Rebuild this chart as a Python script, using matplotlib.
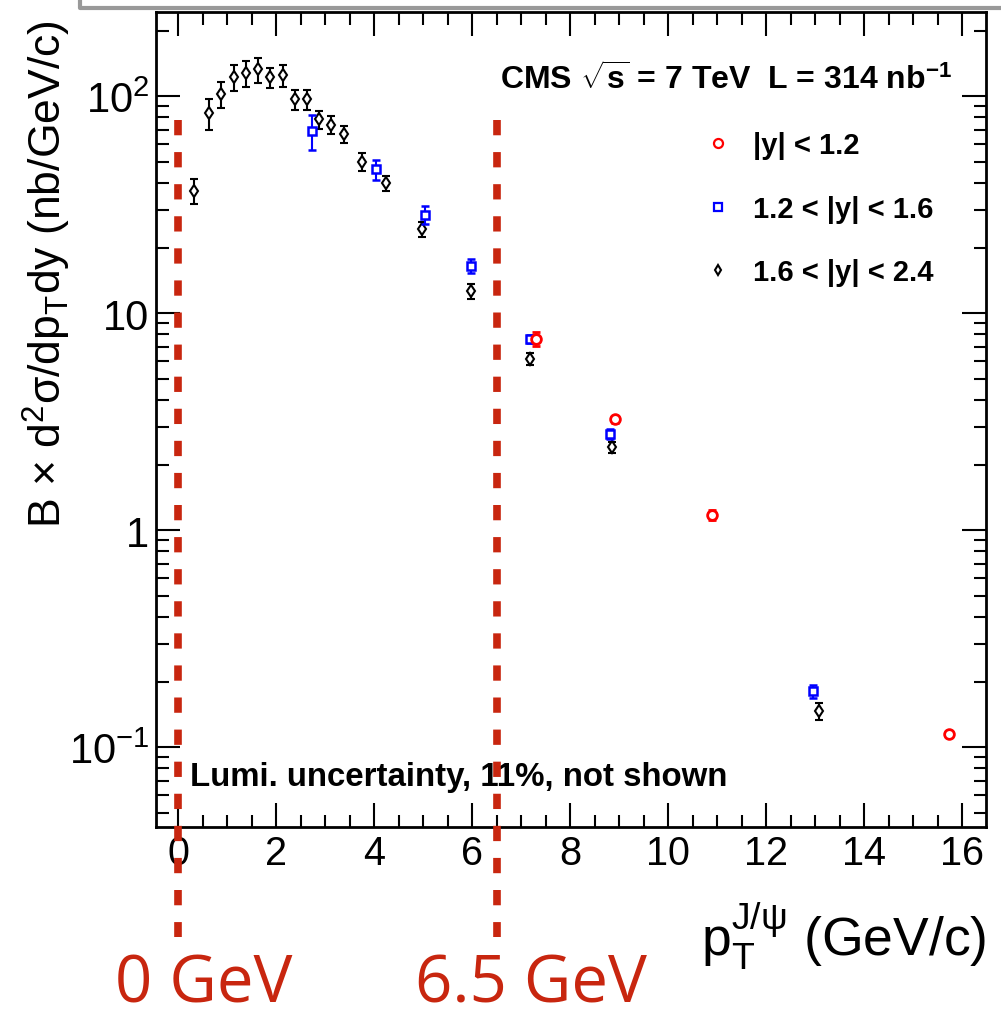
import matplotlib
matplotlib.use('Agg')
import matplotlib.pyplot as plt
from matplotlib.lines import Line2D
from matplotlib.ticker import FixedLocator, FixedFormatter, LogLocator, MultipleLocator, NullFormatter

plt.rcParams['font.family'] = ['Liberation Sans', 'DejaVu Sans']
plt.rcParams['mathtext.fontset'] = 'custom'
plt.rcParams['mathtext.rm'] = 'Liberation Sans'
plt.rcParams['mathtext.it'] = 'Liberation Sans:italic'
plt.rcParams['mathtext.bf'] = 'Liberation Sans:bold'

# J/psi cross section, 1.6 < |y| < 2.4
pt_fwd = [0.33, 0.63, 0.88, 1.13, 1.38, 1.62, 1.88, 2.13, 2.38, 2.63, 2.88, 3.12, 3.38,
          3.74, 4.24, 4.97, 5.97, 7.18, 8.84, 13.08]
xs_fwd = [36.7, 83.5, 102.5, 122.3, 128, 133, 122.3, 125.3, 96.9, 96.9, 78.3, 74, 67,
          49.8, 39.7, 24.4, 12.6, 6.15, 2.41, 0.147]
err_fwd = [4.8, 13.5, 13.8, 17, 17.5, 17.5, 13, 14.5, 10.5, 10.5, 7.6, 7.1, 5.9,
           4.7, 3.0, 2.0, 1.0, 0.38, 0.14, 0.013]

# 1.2 < |y| < 1.6
pt_mid = [2.73, 4.03, 5.03, 5.97, 7.18, 8.81, 12.96]
xs_mid = [69, 46.1, 28.5, 16.5, 7.62, 2.78, 0.181]
err_mid = [12.7, 4.8, 2.7, 1.2, 0.3, 0.16, 0.012]

# |y| < 1.2
pt_cen = [7.29, 8.91, 10.90, 15.72]
xs_cen = [7.62, 3.24, 1.18, 0.1156]
err_cen = [0.56, 0.12, 0.065, 0.003]

cuts = [0, 6.5]
cut_labels = ['0 GeV', '6.5 GeV']
cut_color = '#c8260f'

fig = plt.figure(figsize=(10.01, 10.20), dpi=100)
ax = fig.add_axes([0.1558, 0.188, 0.985 - 0.1558, 0.987 - 0.188])

ax.errorbar(pt_fwd, xs_fwd, yerr=err_fwd, fmt='d', color='black', mfc='white',
            ms=6, mew=1.5, elinewidth=1.5, capsize=2.6, capthick=1.5, zorder=3)
ax.errorbar(pt_mid, xs_mid, yerr=err_mid, fmt='s', color='blue', mfc='white',
            ms=6, mew=1.8, elinewidth=1.5, capsize=2.6, capthick=1.5, zorder=4)
ax.errorbar(pt_cen, xs_cen, yerr=err_cen, fmt='o', color='red', mfc='white',
            ms=7, mew=2, elinewidth=1.5, capsize=2.6, capthick=1.5, zorder=5)

ax.set_yscale('log')
ax.set_xlim(-0.455, 16.48)
ax.set_ylim(0.0428, 243.8)

ax.yaxis.set_major_locator(FixedLocator([0.1, 1, 10, 100]))
ax.yaxis.set_major_formatter(FixedFormatter(['$10^{-1}$', '1', '10', '$10^{2}$']))
ax.yaxis.set_minor_locator(LogLocator(base=10, subs=range(2, 10), numticks=20))
ax.yaxis.set_minor_formatter(NullFormatter())
ax.xaxis.set_major_locator(MultipleLocator(2))
ax.xaxis.set_minor_locator(MultipleLocator(0.5))

ax.tick_params(which='both', direction='in', top=True, right=True, width=1.5, labelsize=28.5)
ax.tick_params(which='major', length=17)
ax.tick_params(which='minor', length=9)
ax.tick_params(axis='x', pad=5)
ax.tick_params(axis='y', labelsize=30, pad=5)
for s in ax.spines.values():
    s.set_linewidth(2)

ax.set_ylabel('B $\\times$ d$^{2}$σ/dp$_{\\rm T}$dy (nb/GeV/c)', fontsize=32, loc='top')
ax.yaxis.set_label_coords(-0.1, 0.992)
ax.set_xlabel('p$_{\\rm T}^{\\rm J/ψ}$ (GeV/c)', fontsize=38.5, loc='right')
ax.xaxis.set_label_coords(1.0, -0.088)

ax.text(0.4145, 0.918, 'CMS $\\sqrt{\\mathbf{s}}$ = 7 TeV  L = 314 nb$^{\\mathbf{-1}}$',
        transform=ax.transAxes, fontsize=23, fontweight='bold', va='center', ha='left')
ax.text(0.041, 0.0617, 'Lumi. uncertainty, 11%, not shown', transform=ax.transAxes,
        fontsize=23.8, fontweight='bold', va='center', ha='left')

handles = [Line2D([], [], ls='none', marker='o', color='red', mfc='white', ms=6.5, mew=1.6),
           Line2D([], [], ls='none', marker='s', color='blue', mfc='white', ms=5.5, mew=1.6),
           Line2D([], [], ls='none', marker='d', color='black', mfc='white', ms=5.5, mew=1.5)]
ax.legend(handles, ['|y| < 1.2', '1.2 < |y| < 1.6', '1.6 < |y| < 2.4'],
          loc='upper left', bbox_to_anchor=(0.66, 0.854), frameon=False,
          prop={'size': 21, 'weight': 'bold'}, handlelength=1.0, handletextpad=0.68,
          labelspacing=1.22, borderpad=0, borderaxespad=0)

# dashed markers for the pT cuts, running below the axis
for c in cuts:
    ax.plot([c, c], [0.868, -0.135], transform=ax.get_xaxis_transform(), clip_on=False,
            color=cut_color, lw=5.5, ls=(0, (2.0, 2.2)), solid_capstyle='butt',
            dash_capstyle='butt', zorder=10)

fig.text(0.1149, 0.017, cut_labels[0], color=cut_color, fontsize=47,
         family=['Open Sans', 'DejaVu Sans'], ha='left', va='baseline')
fig.text(0.4146, 0.017, cut_labels[1], color=cut_color, fontsize=47,
         family=['Open Sans', 'DejaVu Sans'], ha='left', va='baseline')

# grey frame edge along the top
fig.add_artist(Line2D([0.0804, 0.0804, 1.0], [1.0, 0.9907, 0.9907], transform=fig.transFigure,
                      color='#999999', lw=3))

fig.savefig('out.png', dpi=100)
